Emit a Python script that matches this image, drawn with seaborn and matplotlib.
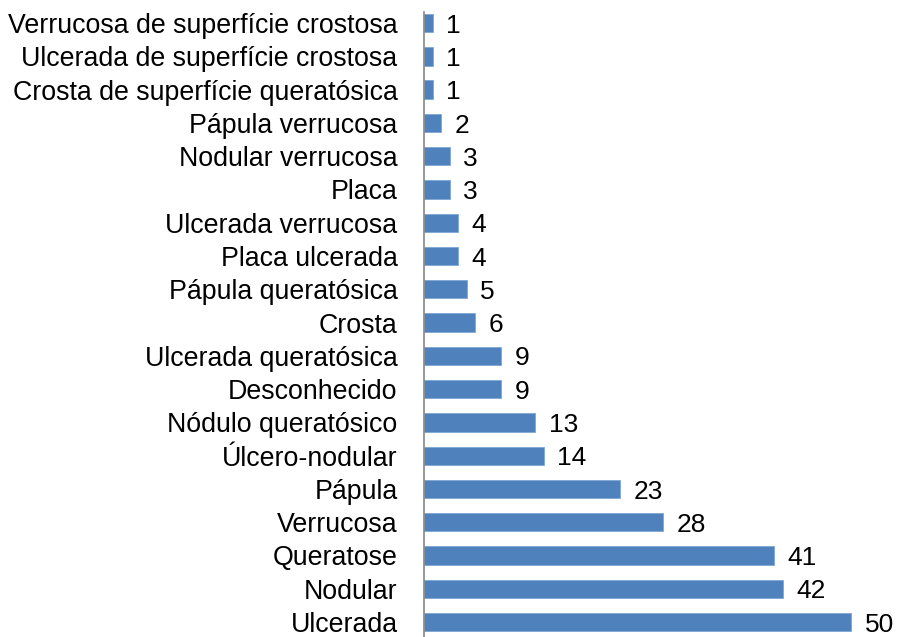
import pandas as pd
import matplotlib
matplotlib.use('Agg')
import matplotlib.pyplot as plt
import seaborn as sns

# Categories (top to bottom) and counts
categories = ['Verrucosa de superfície crostosa', 'Ulcerada de superfície crostosa',
              'Crosta de superfície queratósica', 'Pápula verrucosa', 'Nodular verrucosa',
              'Placa', 'Ulcerada verrucosa', 'Placa ulcerada', 'Pápula queratósica',
              'Crosta', 'Ulcerada queratósica', 'Desconhecido', 'Nódulo queratósico',
              'Úlcero-nodular', 'Pápula', 'Verrucosa', 'Queratose', 'Nodular', 'Ulcerada']
counts = [1, 1, 1, 2, 3, 3, 4, 4, 5, 6, 9, 9, 13, 14, 23, 28, 41, 42, 50]

df = pd.DataFrame({'tipo': categories, 'n': counts})

sns.set_style('white')
plt.rcParams['font.family'] = ['Liberation Sans', 'DejaVu Sans']

fig = plt.figure(figsize=(8.97, 6.37), dpi=100)
ax = fig.add_axes([0.4727, 0.0, 0.5273, 0.981])

sns.barplot(data=df, x='n', y='tipo', orient='h', color='#4f81bd', width=0.55,
            edgecolor='#7ea6d6', linewidth=0.6, saturation=1, ax=ax)

# value labels
for i, v in enumerate(counts):
    ax.text(v + 1.6, i + 0.08, str(v), va='center', ha='left', fontsize=19, color='black')

ax.set_xlim(0, 55.4)
ax.set_ylim(18.45, -0.33)
ax.set_xlabel('')
ax.set_ylabel('')
ax.set_xticks([])
for s in ['top', 'right', 'bottom']:
    ax.spines[s].set_visible(False)
ax.spines['left'].set_color('#888888')
ax.spines['left'].set_linewidth(1.2)
ax.tick_params(axis='y', length=0, pad=19, labelsize=19.3, labelcolor='black')

fig.savefig('out.png', dpi=100)
